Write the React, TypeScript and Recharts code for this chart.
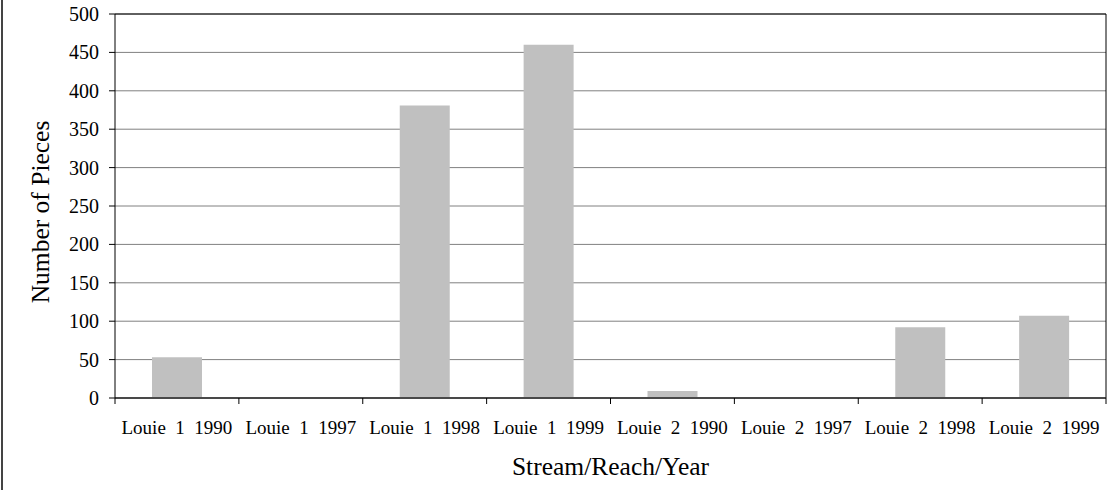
import { BarChart, Bar, XAxis, YAxis, CartesianGrid, ReferenceLine } from 'recharts'

const categories = [
  'Louie  1  1990',
  'Louie  1  1997',
  'Louie  1  1998',
  'Louie  1  1999',
  'Louie  2  1990',
  'Louie  2  1997',
  'Louie  2  1998',
  'Louie  2  1999',
]
const pieces = [53, 0, 381, 460, 9, 0, 92, 107]
const yTicks = [0, 50, 100, 150, 200, 250, 300, 350, 400, 450, 500]

const FONT = '"Liberation Serif", "Times New Roman", serif'

// bars sit at the middle of each slot, slot edges get the tick marks
const chartData = categories.map((name, i) => ({ pos: i + 0.5, name, pieces: pieces[i] }))
const xTicks = Array.from({ length: categories.length * 2 + 1 }, (_, i) => i / 2)

function XTick({ x, y, payload }: { x?: number; y?: number; payload?: { value: number } }) {
  const v = payload?.value ?? 0
  if (Number.isInteger(v)) {
    return <line x1={x} x2={x} y1={y} y2={(y ?? 0) + 6} stroke="#000" />
  }
  const label = categories[Math.floor(v)]
  return (
    <text x={x} y={(y ?? 0) + 36} textAnchor="middle" fontSize={19} fill="#000" style={{ whiteSpace: 'pre', fontFamily: FONT }}>
      {label}
    </text>
  )
}

function YTick({ x, y, payload }: { x?: number; y?: number; payload?: { value: number } }) {
  return (
    <text x={x} y={(y ?? 0) + 7} textAnchor="end" fontSize={20} fill="#000" style={{ fontFamily: FONT }}>
      {payload?.value}
    </text>
  )
}

function YTitle({ viewBox }: { viewBox?: { x: number; y: number; width: number; height: number } }) {
  if (!viewBox) return null
  const cx = viewBox.x + 49
  const cy = viewBox.y + viewBox.height / 2 + 6
  return (
    <text x={0} y={0} transform={`translate(${cx},${cy}) rotate(-90)`} textAnchor="middle" fontSize={25.5} fill="#000" style={{ fontFamily: FONT }}>
      Number of Pieces
    </text>
  )
}

export default function App() {
  return (
    <div style={{ position: 'absolute', left: 0, top: 0, width: 1111, height: 490, background: '#fff', fontFamily: FONT }}>
      <div style={{ position: 'absolute', left: 1, top: 0, width: 2, height: 490, background: '#444' }} />
      <BarChart width={1111} height={490} data={chartData} margin={{ top: 14, right: 5, left: 0, bottom: 0 }}>
        <CartesianGrid vertical={false} stroke="#808080" />
        <XAxis
          dataKey="pos"
          type="number"
          domain={[0, categories.length]}
          ticks={xTicks}
          interval={0}
          height={92}
          tickSize={0}
          tickMargin={0}
          tickLine={false}
          axisLine={{ stroke: '#222', strokeWidth: 1.5 }}
          tick={<XTick />}
          label={{ value: 'Stream/Reach/Year', position: 'insideBottom', offset: 15, fontSize: 25.5, fontFamily: FONT, fill: '#000' }}
        />
        <YAxis
          domain={[0, 500]}
          ticks={yTicks}
          interval={0}
          width={115}
          tickSize={6}
          tickMargin={10}
          axisLine={{ stroke: '#000' }}
          tickLine={{ stroke: '#000' }}
          tick={<YTick />}
          label={{ content: <YTitle /> }}
        />
        <ReferenceLine y={500} stroke="#000" />
        <ReferenceLine x={categories.length} stroke="#000" />
        <Bar dataKey="pieces" fill="#C0C0C0" barSize={50} isAnimationActive={false} />
      </BarChart>
    </div>
  )
}
